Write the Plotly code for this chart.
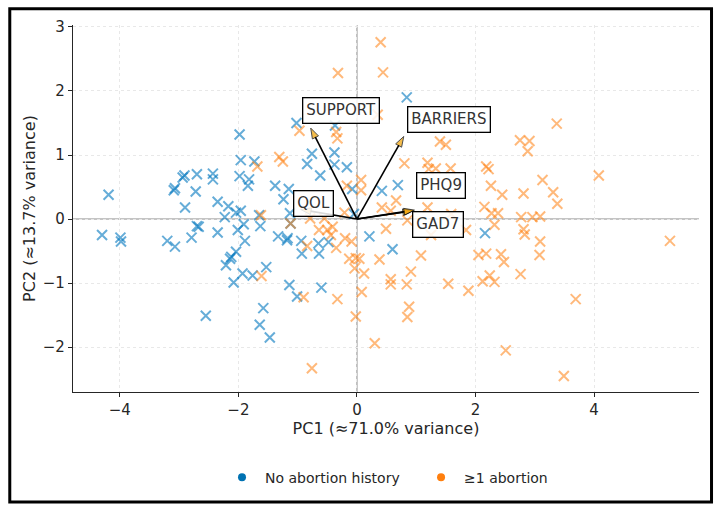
import plotly.graph_objects as go

# ---- data: PCA scores ----
no_abort_pc1 = [-4.30, -4.19, -3.99, -3.98, -3.20, -3.07, -3.09, -3.07, -2.94, -2.91,
                -2.90, -2.79, -2.70, -2.67, -2.72, -2.70, -2.43, -2.43, -2.35, -2.35,
                -2.17, -2.23, -2.01, -2.04, -1.96, -1.91, -1.89, -2.04, -2.12, -2.14,
                -2.21, -2.08, -1.93, -1.76, -1.53, -1.65, -1.63, -2.55, -1.58, -1.64,
                -1.47, -1.98, -1.96, -1.73, -1.98, -1.82, -1.84, -1.38, -1.24, -1.15,
                -1.02, -0.84, -0.76, -0.62, -0.38, -0.38, -0.37, -0.17, -0.08, -1.33,
                -1.18, -1.17, -0.94, -0.93, -0.65, -0.64, -0.48, -1.14, -1.01, -0.60,
                -1.12, -1.13, -0.05, 0.21, 0.60, 2.16, 0.84, 0.42, 0.69]
no_abort_pc2 = [-0.25, 0.38, -0.29, -0.35, -0.34, -0.43, 0.45, 0.48, 0.65, 0.68,
                0.18, -0.29, -0.11, -0.12, 0.43, 0.70, 0.71, 0.62, 0.27, -0.21,
                0.20, 0.03, -0.17, 0.10, 0.13, -0.08, -0.34, -0.51, -0.59, -0.62,
                -0.72, -0.99, -0.85, -0.88, -0.75, 0.06, -0.11, -1.51, -1.39, -1.65,
                -1.85, 1.32, 0.92, 0.90, 0.67, 0.62, 0.52, 0.52, 0.31, 0.47,
                1.50, 0.86, 1.02, 0.68, 0.85, 1.04, 1.46, 0.81, 0.47, -0.27,
                -0.33, -0.30, -0.34, -0.54, -0.38, -0.54, -0.36, -1.03, -1.21, -1.07,
                -0.07, 0.09, 0.08, -0.27, -0.47, -0.22, 1.90, 0.44, 0.53]

abort_pc1 = [-0.32, 0.40, 0.44, 0.35, -0.97, -0.35, -0.33, -1.31, -1.25, -1.68,
             -0.17, 0.07, 0.07, -0.21, -1.62, -0.79, -0.55, -1.61, -0.84, -0.90,
             -0.76, -0.33, -0.64, -0.50, -0.41, -0.44, -0.35, -0.20, -0.09, -0.13,
             -0.02, -0.04, -0.02, 0.04, 0.12, 0.08, 0.38, 0.49, 1.08, 0.91,
             0.57, 0.57, 0.84, 0.88, 0.85, 0.30, 1.54, 1.88, 2.05, 2.18,
             2.12, 2.24, 2.32, 2.43, 2.48, 2.76, 1.84, 2.32, 2.51, 3.49,
             3.69, 5.28, 3.09, 3.08, 2.81, 2.83, 2.77, 2.96, 3.09, 3.38,
             3.31, 2.81, 3.13, 4.08, 2.88, 2.75, 2.91, 3.37, 1.40, 1.50,
             0.80, 1.19, 1.21, 1.33, 1.58, 2.18, 2.22, 2.26, 2.45, 2.15,
             2.27, 2.38, 1.59, 1.19, 0.42, 0.57, 0.66, 1.25, 0.85, -1.12]
abort_pc2 = [2.28, 2.76, 2.29, 1.63, 1.38, 1.36, 1.26, 0.97, 0.90, 0.82,
             0.52, 0.61, 0.45, 0.10, 0.06, 0.01, 0.01, -0.89, -0.42, -1.22,
             -2.33, -1.25, -0.17, -0.17, -0.12, -0.25, -0.45, -0.30, -0.35, -0.62,
             -0.61, -0.77, -1.52, -0.62, -0.85, -1.14, -0.63, -0.15, -0.57, -0.82,
             -0.94, -1.02, -1.02, -1.37, -1.53, -1.94, -1.01, -1.12, -0.56, -0.54,
             -0.97, -0.88, -0.98, -0.55, -0.67, -0.86, -0.17, -0.09, -2.05, -2.45,
             -1.25, -0.34, -0.35, -0.56, -0.16, -0.24, 0.03, 0.03, 0.04, 0.24,
             0.42, 0.40, 0.61, 0.68, 1.06, 1.23, 1.22, 1.49, 1.21, 1.16,
             0.87, 0.88, 0.78, 0.79, 0.79, 0.82, 0.78, 0.52, 0.38, 0.19,
             0.09, 0.09, 0.08, 0.18, 0.18, 0.13, 0.29, -0.25, -0.02, -0.07]

# ---- loadings (arrow tips) and label positions ----
var_names = ["SUPPORT", "BARRIERS", "PHQ9", "GAD7", "QOL"]
load_pc1 = [-0.78, 0.79, 0.95, 0.97, -0.95]
load_pc2 = [1.42, 1.29, 0.13, 0.14, 0.15]
label_pc1 = [-0.27, 1.55, 1.42, 1.37, -0.73]
label_pc2 = [1.69, 1.55, 0.52, -0.09, 0.25]

group_names = ["No abortion history\u00a0\u00a0\u00a0", "≥1 abortion"]
group_colors = ["#0072B2", "#ff7f0e"]
marker_rgba = ["rgba(0,118,190,0.6)", "rgba(255,127,14,0.55)"]

fig = go.Figure()

for xs, ys, col in [(no_abort_pc1, no_abort_pc2, marker_rgba[0]),
                    (abort_pc1, abort_pc2, marker_rgba[1])]:
    fig.add_trace(go.Scatter(
        x=xs, y=ys, mode="markers", showlegend=False, hoverinfo="skip",
        marker=dict(symbol="x-thin", size=10, line=dict(color=col, width=2))))

# legend entries (round dots)
for name, col in zip(group_names, group_colors):
    fig.add_trace(go.Scatter(x=[None], y=[None], mode="markers", name=name,
                             marker=dict(symbol="circle", size=8, color=col)))

# loading arrows
for i, name in enumerate(var_names):
    fig.add_trace(go.Scatter(
        x=[0, load_pc1[i]], y=[0, load_pc2[i]], mode="lines+markers",
        showlegend=False, hoverinfo="skip",
        line=dict(color="black", width=1.6),
        marker=dict(symbol=["circle", "arrow"], size=[0, 11], angleref="previous",
                    color="#f0a000", line=dict(color="black", width=1))))
    fig.add_annotation(x=label_pc1[i], y=label_pc2[i], text=name, showarrow=False,
                       font=dict(family="DejaVu Sans", size=15, color="#333333"),
                       bgcolor="rgba(255,255,255,0.85)", bordercolor="black",
                       borderwidth=1.3, borderpad=3)

# zero lines
fig.add_shape(type="line", xref="x", yref="paper", x0=0, x1=0, y0=0, y1=1,
              line=dict(color="#b0b0b0", width=1.5), layer="below")
fig.add_shape(type="line", xref="paper", yref="y", x0=0, x1=1, y0=0, y1=0,
              line=dict(color="#b0b0b0", width=1.5), layer="below")

# outer frame
fig.add_shape(type="rect", xref="paper", yref="paper", x0=-0.101, x1=1.02,
              y0=-0.3, y1=1.044, line=dict(color="black", width=3))

axis_common = dict(
    showline=True, linecolor="#262626", linewidth=1.2, mirror=False,
    ticks="outside", ticklen=4, tickcolor="#262626",
    tickfont=dict(family="DejaVu Sans", size=15, color="#262626"),
    showgrid=True, gridcolor="#e8e8e8", griddash="dot", gridwidth=1,
    zeroline=False,
)

fig.update_xaxes(range=[-4.79, 5.77], tickvals=[-4, -2, 0, 2, 4],
                 title=dict(text="PC1 (≈71.0% variance)",
                            font=dict(family="DejaVu Sans", size=16, color="#262626"),
                            standoff=3),
                 **axis_common)
fig.update_yaxes(range=[-2.70, 3.03], tickvals=[-2, -1, 0, 1, 2, 3],
                 title=dict(text="PC2 (≈13.7% variance)",
                            font=dict(family="DejaVu Sans", size=16, color="#262626"),
                            standoff=3),
                 **axis_common)

fig.update_layout(
    width=718, height=514,
    margin=dict(l=73, r=19, t=25, b=122),
    plot_bgcolor="white", paper_bgcolor="white",
    font=dict(family="DejaVu Sans", color="#262626"),
    legend=dict(orientation="h", x=0.50, xanchor="center", y=-0.19, yanchor="top",
                font=dict(family="DejaVu Sans", size=14, color="#262626"),
                itemwidth=36, tracegroupgap=0),
)

fig.write_html("out.html")
